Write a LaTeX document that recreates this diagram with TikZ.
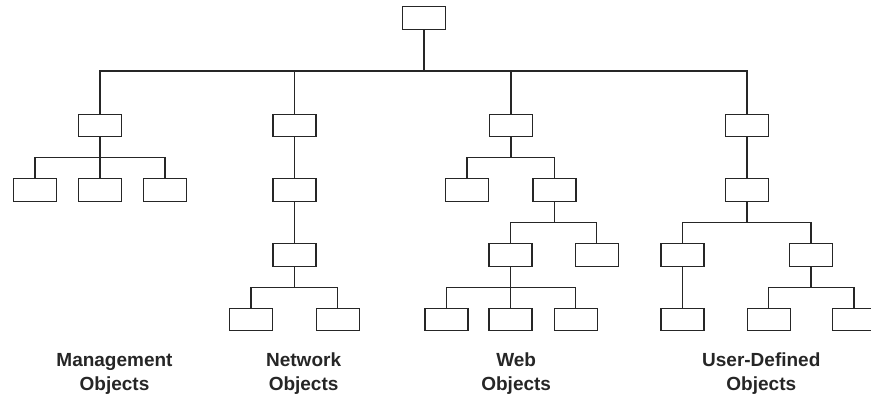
\documentclass[tikz,border=0pt]{standalone}
\usepackage{fontspec}
\setmainfont{Liberation Sans}
\begin{document}
\begin{tikzpicture}[x=1pt,y=-1pt,
  box/.style={draw=ink, fill=white, minimum width=43pt, minimum height=22.5pt, inner sep=0pt, line width=1.4pt},
  link/.style={draw=ink, line width=1.3pt},
  caption/.style={text=ink, font=\fontsize{19}{24}\selectfont\bfseries, align=center}]
\definecolor{ink}{HTML}{262626}
\useasboundingbox (0,0) rectangle (871,397);
\clip (0,0) rectangle (871,397);

% root
\node[box] (root) at (424,18) {};
% first level
\node[box] (m1) at (100,125.5) {};
\node[box] (n1) at (294.5,125.5) {};
\node[box] (w1) at (511,125.5) {};
\node[box] (u1) at (747,125.5) {};
% second level
\node[box] (m2a) at (35,190) {};
\node[box] (m2b) at (100,190) {};
\node[box] (m2c) at (165,190) {};
\node[box] (n2) at (294.5,190) {};
\node[box] (w2a) at (467,190) {};
\node[box] (w2b) at (554.5,190) {};
\node[box] (u2) at (747,190) {};
% third level
\node[box] (n3) at (294.5,255) {};
\node[box] (w3a) at (510.5,255) {};
\node[box] (w3b) at (596.7,255) {};
\node[box] (u3a) at (682.5,255) {};
\node[box] (u3b) at (811,255) {};
% fourth level
\node[box] (n4a) at (251,319.5) {};
\node[box] (n4b) at (337.7,319.5) {};
\node[box] (w4a) at (446.5,319.5) {};
\node[box] (w4b) at (510.5,319.5) {};
\node[box] (w4c) at (575.7,319.5) {};
\node[box] (u4a) at (682.5,319.5) {};
\node[box] (u4b) at (768.7,319.5) {};
\node[box] (u4c) at (854,319.5) {};

% bus junctions
\coordinate (b0) at (424,71);
\coordinate (bm) at (100,157.7);
\coordinate (bw2) at (511,157.7);
\coordinate (bw3) at (554.5,222.3);
\coordinate (bu3) at (747,222.3);
\coordinate (bn4) at (294.5,287.3);
\coordinate (bw4) at (510.5,287.3);
\coordinate (bu4) at (811,287.3);

% connectors
\draw[link] (root) -- (b0);
\foreach \c in {m1,n1,w1,u1} \draw[link] (\c.north) |- (b0);
\draw[link] (m1) -- (bm);
\foreach \c in {m2a,m2b,m2c} \draw[link] (\c.north) |- (bm);
\draw[link] (n1) -- (n2);
\draw[link] (n2) -- (n3);
\draw[link] (n3) -- (bn4);
\foreach \c in {n4a,n4b} \draw[link] (\c.north) |- (bn4);
\draw[link] (w1) -- (bw2);
\foreach \c in {w2a,w2b} \draw[link] (\c.north) |- (bw2);
\draw[link] (w2b) -- (bw3);
\foreach \c in {w3a,w3b} \draw[link] (\c.north) |- (bw3);
\draw[link] (w3a) -- (bw4);
\foreach \c in {w4a,w4b,w4c} \draw[link] (\c.north) |- (bw4);
\draw[link] (u1) -- (u2);
\draw[link] (u2) -- (bu3);
\foreach \c in {u3a,u3b} \draw[link] (\c.north) |- (bu3);
\draw[link] (u3a) -- (u4a);
\draw[link] (u3b) -- (bu4);
\foreach \c in {u4b,u4c} \draw[link] (\c.north) |- (bu4);

% captions
\node[caption] (lm) at (114.5,373.5) {Management\\Objects};
\node[caption] (ln) at (303.6,374) {Network\\Objects};
\node[caption] (lw) at (516.2,374) {Web\\Objects};
\node[caption] (lu) at (761.3,374) {User-Defined\\Objects};
\end{tikzpicture}
\end{document}
